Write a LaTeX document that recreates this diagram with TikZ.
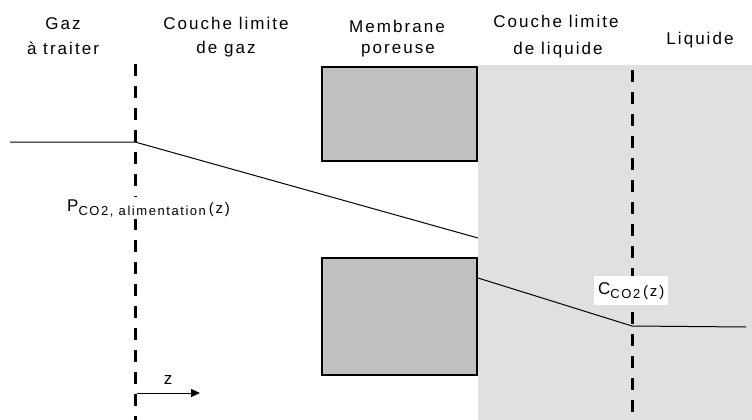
\documentclass[tikz,border=0pt]{standalone}
\usepackage{fontspec}
\setmainfont{Liberation Sans}[LetterSpace=12]
\usetikzlibrary{arrows.meta}
\definecolor{liqgrey}{HTML}{E0E0E0}
\definecolor{membgrey}{HTML}{C0C0C0}
\newcommand{\lowsub}[1]{\raisebox{-4pt}{\fontsize{13}{14}\selectfont #1}}
\newcommand{\argz}{\raisebox{-2pt}{\fontsize{15}{16}\selectfont (z)}}
\tikzset{
  lbl/.style={font=\fontsize{17}{20}\selectfont, inner sep=0pt},
  head/.style={lbl, anchor=base},
  pore/.style={draw=black, line width=1.2pt, fill=membgrey},
  interface/.style={line width=3pt, dash pattern=on 12pt off 10pt},
  profile/.style={line width=1pt},
}
\begin{document}
\begin{tikzpicture}[x=1pt,y=-1pt]
\useasboundingbox (0,0) rectangle (752,420);
% liquid-side region
\fill[liqgrey] (478,65) rectangle (752,420);
% porous membrane walls
\node[pore, minimum width=155pt, minimum height=94pt, inner sep=0pt] (mtop) at (399.5,114) {};
\node[pore, minimum width=155pt, minimum height=117pt, inner sep=0pt] (mbot) at (399.5,316.5) {};
% interfaces
\coordinate (g1) at (135,64);
\coordinate (g2) at (135,420);
\coordinate (l1) at (632,70);
\coordinate (l2) at (632,420);
\draw[interface] (g1) -- (g2);
\draw[interface] (l1) -- (l2);
% concentration profile
\coordinate (p0) at (10,142);
\coordinate (p1) at (135,142);
\coordinate (p2) at (478,238);
\coordinate (p3) at (478,278);
\coordinate (p4) at (632,326);
\coordinate (p5) at (746,327);
\draw[profile] (p0) -- (p1) -- (p2);
\draw[profile] (p3) -- (p4) -- (p5);
% headings
\node[head] (h1a) at (63,30) {Gaz};
\node[head] (h1b) at (63,55) {à traiter};
\node[head] (h2a) at (226,30) {Couche limite};
\node[head] (h2b) at (226,53) {de gaz};
\node[head] (h3a) at (397,33) {Membrane};
\node[head] (h3b) at (398,53) {poreuse};
\node[head] (h4a) at (556,28) {Couche limite};
\node[head] (h4b) at (558,55) {de liquide};
\node[head] (h5) at (700,45) {Liquide};
% profile labels
\node[lbl, anchor=base west, fill=white, inner sep=2pt] (pl) at (65,211) {P\lowsub{CO2, alimentation}\,\argz};
\node[lbl, anchor=base west, fill=white, inner xsep=4pt, inner ysep=6pt] (cl) at (594,294) {C\lowsub{CO2}\,\argz};
% direction of z
\coordinate (z0) at (137,393);
\coordinate (z1) at (200,393);
\draw[line width=1pt, -{Triangle[length=9pt,width=8pt]}] (z0) -- (z1);
\node[lbl] (zl) at (168,380) {z};
\end{tikzpicture}
\end{document}
